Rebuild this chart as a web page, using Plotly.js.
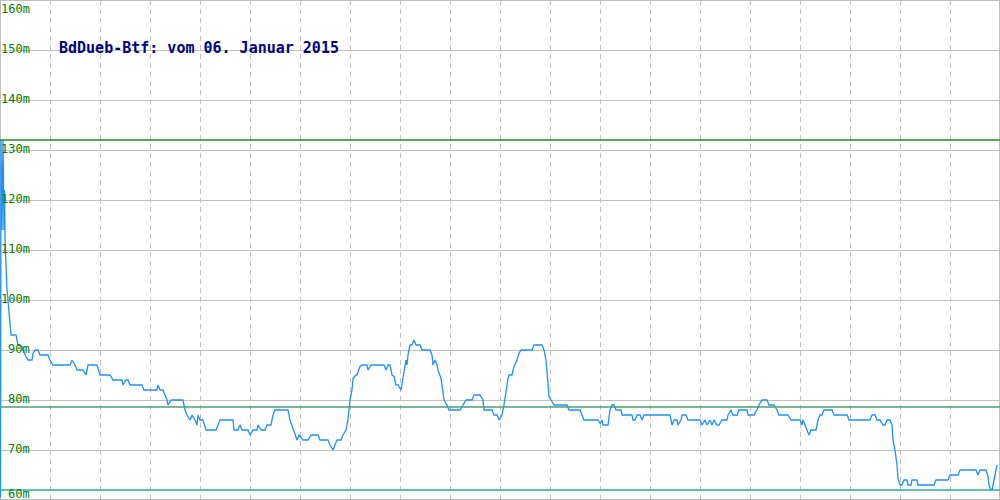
<!DOCTYPE html>
<html>
<head>
<meta charset="utf-8">
<script src="https://cdn.plot.ly/plotly-3.0.1.min.js"></script>
<style>html,body{margin:0;padding:0;background:#fff;}#chart{width:1000px;height:500px;}</style>
</head>
<body>
<div id="chart"></div>
<script>
var chartTitle = "BdDueb-Btf: vom 06. Januar 2015";
var samples = [0.5,1,2,3,4,4.5,5,6,7,8,9,10,11,16,17,18,22,23,26,28,32,33,35,38,40,48,50,53,70,72,75,77,83,86,88,97,100,110,113,122,123,126,128,130,142,144,157,158,160,163,165,167,168,171,182,183,185,187,190,192,195,197,198,200,203,206,216,220,233,234,238,240,242,248,250,253,257,258,261,265,267,271,273,275,288,290,293,297,299,303,308,311,318,320,328,330,333,337,341,343,346,348,350,352,353,356,357,360,362,367,368,371,384,386,388,390,392,394,396,398,401,403,404,406,407,408,410,412,414,416,420,422,430,432,433,435,437,438,441,443,444,447,449,460,463,466,472,474,480,483,484,492,494,497,499,502,504,506,508,509,512,514,517,519,521,532,534,542,544,546,548,549,551,554,567,569,580,582,584,598,600,602,603,608,610,612,614,616,621,622,632,633,635,637,640,642,644,670,672,674,677,678,681,682,686,688,700,702,705,707,710,712,714,717,719,722,727,728,731,733,737,739,747,748,754,757,759,762,767,769,774,777,779,788,791,800,802,803,805,807,809,811,816,818,820,822,824,832,834,847,849,870,872,875,877,880,883,885,887,890,892,893,895,897,898,900,902,904,907,908,911,912,917,918,934,936,948,950,958,960,976,978,980,986,988,989,991,992,994,996,997];
var levels = [60.5,132,114,132,114,122,112,106,102,100,97,95,93,93,91.5,91,90.6,90,88.7,88,88,89.3,90,90,89,89,88,87,87,88,87,86,86,85,87,87,85,85,84,84,83,84,84,83,83,82,82,83,82,82,81,80,79,80,80,80,78,77,76,77,76,75,77,76,76,74,74,76,76,74,74,75,74,74,73,74,74,75,74,74,75,75,77,78,78,76,74.3,72,73,72,72,73,73,72,72,71,70,72,72,73,74,76,80,82,84.3,85,85,86.7,87,87,86,87,87,86,87,87,85,84.7,83,83,82,84.3,86.3,88,87,89,91,91,92,91,91,90,90,89,87,88,87,86,84.3,82,80,79,78,78,79,80,80,81,81,80,78,78,77,77,76,77,79,82,84.3,85,85,86.7,88,89.3,90,90,91,91,90,88,84,80.7,80,79,79,78,78,77,76,76,75.3,76,75,75,78,79,79,78,78,77,77,76,76,77,77,76,77,77,75,76,76,75,76,77,77,76,76,75,76,75,76,75,76,75,75,76,76,77,78,77,77,78,78,77,77,78,79,80,80,79,79,78,77,77,76,76,75,76,75,74,73,74,74,76,77,77,78,78,77,77,76,76,77,77,76,76,75,75,76,76,75,72,70,67,64.3,63,63,64,64,63,63,64,64,63,63,64,64,65,65,66,66,65,66,66,64.7,63,62,62,64,66,67];
var maxLevel = 132;
var meanLevel = 78.6;
var minLevel = 62;
var yTickVals = [60,70,80,90,100,110,120,130,140,150,160];
var yTickText = ["60m","70m","80m","90m","100m","110m","120m","130m","140m","150m","160m"];

var trace = {
  x: samples, y: levels, type: 'scatter', mode: 'lines',
  line: {color: '#1e90ff', width: 1.3}, hoverinfo: 'skip'
};

var annotations = yTickVals.map(function(v, i){
  var shift = 1;
  if (v === 160) shift = -9;
  if (v === 60) shift = 6;
  return {
    xref: 'paper', yref: 'y', x: 0.032, y: v, xanchor: 'right', yanchor: 'middle',
    text: yTickText[i], showarrow: false, yshift: shift,
    font: {family: 'DejaVu Sans Mono', size: 12, color: '#008000'}
  };
});

var shapes = [
  {type:'line', xref:'paper', yref:'y', x0:0, x1:1, y0:maxLevel, y1:maxLevel, line:{color:'#228b22', width:1.5}},
  {type:'line', xref:'paper', yref:'y', x0:0, x1:1, y0:meanLevel, y1:meanLevel, line:{color:'#4ca070', width:1.5}},
  {type:'line', xref:'paper', yref:'y', x0:0, x1:1, y0:minLevel, y1:minLevel, line:{color:'#20b2aa', width:1.5}},
  {type:'rect', xref:'paper', yref:'paper', x0:0, x1:1, y0:0, y1:1, line:{color:'#c0c0c0', width:2}, layer:'below'}
];

var layout = {
  width: 1000, height: 500,
  margin: {l:0, r:0, t:0, b:0, pad:0},
  paper_bgcolor: '#ffffff', plot_bgcolor: '#ffffff',
  showlegend: false,
  title: {
    text: '<b>' + chartTitle + '</b>', x: 0.059, xanchor: 'left', xref: 'container',
    y: 0.905, yanchor: 'middle', yref: 'container',
    font: {family: 'DejaVu Sans Mono', size: 15, color: '#000080'}
  },
  xaxis: {
    range: [0, 1000], dtick: 50, tick0: 0, showticklabels: false, ticks: '',
    showgrid: true, gridcolor: '#c0c0c0', gridwidth: 1, griddash: '5px,4px',
    zeroline: false, showline: false, fixedrange: true
  },
  yaxis: {
    range: [60, 160], dtick: 10, tick0: 60, showticklabels: false, ticks: '',
    showgrid: true, gridcolor: '#c0c0c0', gridwidth: 1,
    zeroline: false, showline: false, fixedrange: true
  },
  annotations: annotations,
  shapes: shapes
};

Plotly.newPlot('chart', [trace], layout, {displayModeBar: false, staticPlot: true});
</script>
</body>
</html>
